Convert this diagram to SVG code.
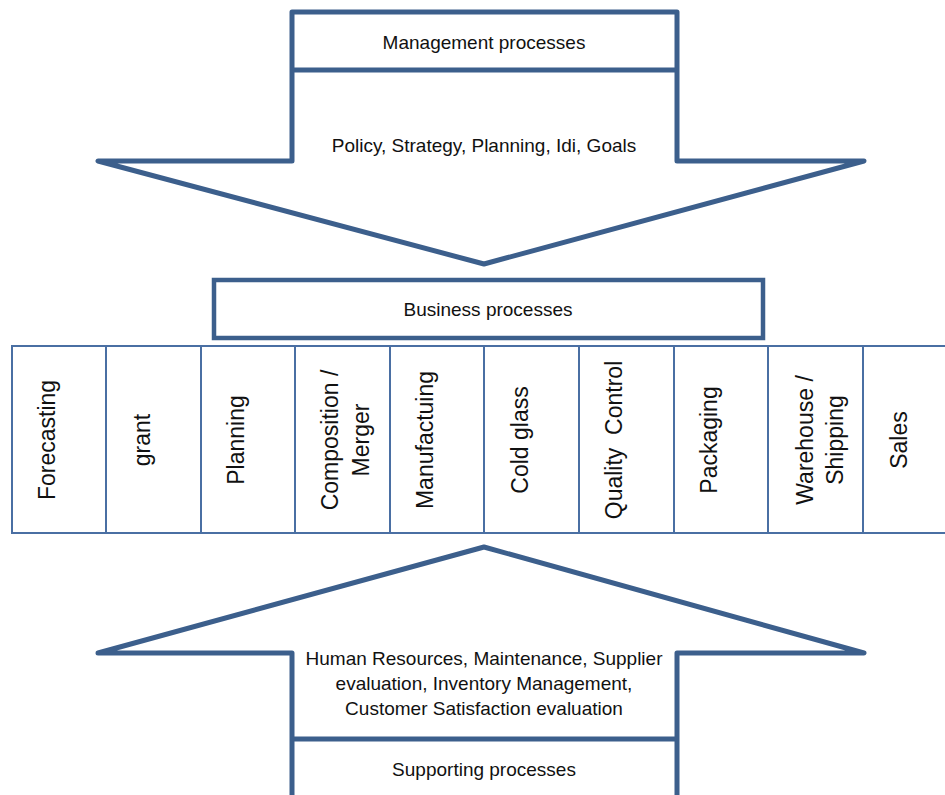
<svg xmlns="http://www.w3.org/2000/svg" width="945" height="795" viewBox="0 0 945 795">
<style>
.arrow{fill:#fff;stroke:#3c5f8c;stroke-width:5;stroke-linejoin:round}
.div{stroke:#3c5f8c;stroke-width:5}
.box{fill:#fff;stroke:#3c5f8c;stroke-width:4.5}
.col{fill:#fff;stroke:#4a6fa3;stroke-width:2}
.t{font-family:"Liberation Sans",Arial,sans-serif;font-size:19px;fill:#111;text-anchor:middle}
.v{font-family:"Liberation Sans",Arial,sans-serif;font-size:23px;fill:#111;text-anchor:middle}
</style>
<rect width="945" height="795" fill="#fff"/>
<g id="management">
<path class="arrow" d="M292 12 L677 12 L677 161 L864 161 L484 264 L98 161 L292 161 Z"/>
<line class="div" x1="292" y1="70" x2="677" y2="70"/>
<text class="t" x="484" y="49">Management processes</text>
<text class="t" x="484" y="152">Policy, Strategy, Planning, Idi, Goals</text>
</g>
<g id="business">
<rect class="box" x="214" y="280" width="549" height="58"/>
<text class="t" x="488" y="316">Business processes</text>
</g>
<g id="columns">
<g id="c1"><rect class="col" x="12" y="346" width="94" height="187"/><text class="v" transform="translate(55,440) rotate(-90)">Forecasting</text></g>
<g id="c2"><rect class="col" x="106" y="346" width="95" height="187"/><text class="v" transform="translate(150,440) rotate(-90)">grant</text></g>
<g id="c3"><rect class="col" x="201" y="346" width="94" height="187"/><text class="v" transform="translate(244,440) rotate(-90)">Planning</text></g>
<g id="c4"><rect class="col" x="295" y="346" width="95" height="187"/><text class="v" transform="translate(338,440) rotate(-90)">Composition /</text><text class="v" transform="translate(369,440) rotate(-90)">Merger</text></g>
<g id="c5"><rect class="col" x="390" y="346" width="94" height="187"/><text class="v" transform="translate(433,440) rotate(-90)">Manufactuing</text></g>
<g id="c6"><rect class="col" x="484" y="346" width="95" height="187"/><text class="v" transform="translate(528,440) rotate(-90)">Cold glass</text></g>
<g id="c7"><rect class="col" x="579" y="346" width="95" height="187"/><text class="v" transform="translate(622,440) rotate(-90)" xml:space="preserve">Quality  Control</text></g>
<g id="c8"><rect class="col" x="674" y="346" width="94" height="187"/><text class="v" transform="translate(717,440) rotate(-90)">Packaging</text></g>
<g id="c9"><rect class="col" x="768" y="346" width="95" height="187"/><text class="v" transform="translate(813,440) rotate(-90)">Warehouse /</text><text class="v" transform="translate(843,440) rotate(-90)">Shipping</text></g>
<g id="c10"><rect class="col" x="863" y="346" width="95" height="187"/><text class="v" transform="translate(907,440) rotate(-90)">Sales</text></g>
</g>
<g id="supporting">
<path class="arrow" d="M292 805 L292 653 L98 653 L484 547 L864 653 L677 653 L677 805"/>
<line class="div" x1="292" y1="739" x2="677" y2="739"/>
<text class="t" x="484" y="665">Human Resources, Maintenance, Supplier</text>
<text class="t" x="484" y="690">evaluation, Inventory Management,</text>
<text class="t" x="484" y="715">Customer Satisfaction evaluation</text>
<text class="t" x="484" y="776">Supporting processes</text>
</g>
<g id="connectors"></g>
</svg>
